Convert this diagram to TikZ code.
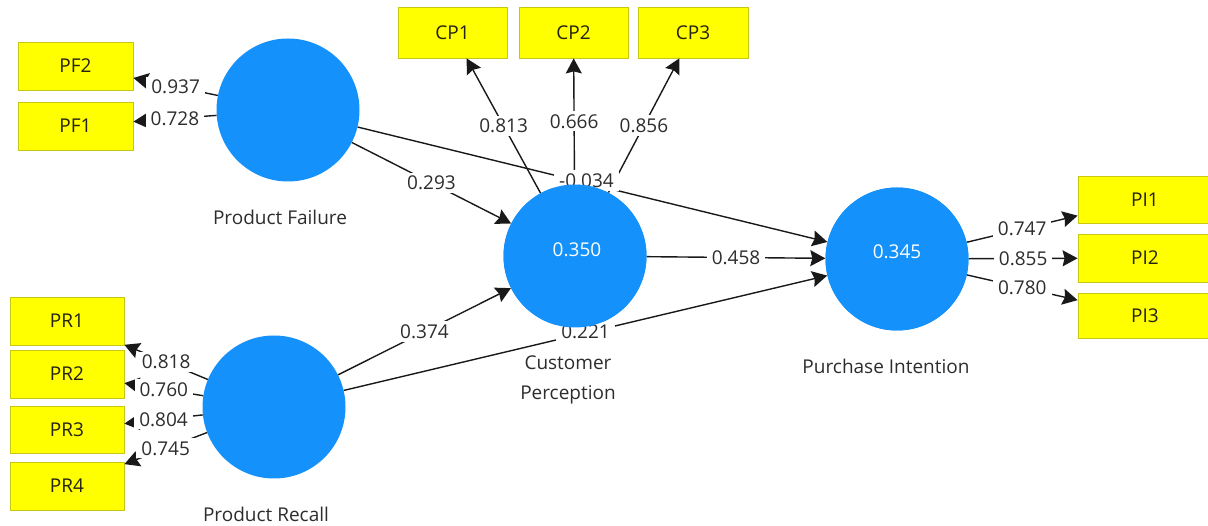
\documentclass[tikz,border=0pt]{standalone}
\usepackage{fontspec}
\setmainfont{Open Sans}
\usetikzlibrary{arrows.meta}
\definecolor{circblue}{RGB}{20,145,250}
\definecolor{boxyellow}{RGB}{255,255,0}
\definecolor{boxedge}{RGB}{200,200,20}
\definecolor{lbltext}{RGB}{45,45,45}
\definecolor{boxtext}{RGB}{35,35,15}
\tikzset{
  latent/.style={circle, fill=circblue, draw=none, minimum size=143pt, inner sep=0pt},
  latentfill/.style={fill=circblue},
  indic/.style={rectangle, fill=boxyellow, draw=boxedge, line width=0.8pt, inner sep=0pt, text=boxtext, font=\fontsize{19}{22}\selectfont},
  arr/.style={draw=black!90, line width=1.4pt, -{Stealth[length=15pt,width=16pt,inset=2pt]}},
  lbl/.style={fill=white, inner xsep=5pt, inner ysep=3pt, text=lbltext, font=\fontsize{19}{22}\selectfont},
  vallbl/.style={text=white, font=\fontsize{19}{22}\selectfont},
  namelbl/.style={text=lbltext, font=\fontsize{19}{30}\selectfont, align=center}
}
\begin{document}
\begin{tikzpicture}[x=1pt, y=-1pt]
\useasboundingbox (0,0) rectangle (1208,526);
% latent variables
\node[latent] (pf) at (288,110) {};
\node[latent] (pr) at (274,407) {};
\node[latent] (cp) at (575,256) {};
\node[latent] (pi) at (897,259) {};
\node[namelbl] (pfn) at (280,217) {Product Failure};
\node[namelbl] (prn) at (266,514) {Product Recall};
\node[namelbl] (pin) at (886,366) {Purchase Intention};
% indicators
\node[indic, minimum width=115pt, minimum height=48pt] (pf2) at (75.5,66) {PF2};
\node[indic, minimum width=115pt, minimum height=48pt] (pf1) at (75.5,126) {PF1};
\node[indic, minimum width=114pt, minimum height=48pt] (pr1) at (67,321) {PR1};
\node[indic, minimum width=114pt, minimum height=48pt] (pr2) at (67,374) {PR2};
\node[indic, minimum width=114pt, minimum height=47pt] (pr3) at (67,430) {PR3};
\node[indic, minimum width=114pt, minimum height=48pt] (pr4) at (67,486) {PR4};
\node[indic, minimum width=109pt, minimum height=51pt] (cp1) at (452.5,32.5) {CP1};
\node[indic, minimum width=109pt, minimum height=51pt] (cp2) at (573.5,32.5) {CP2};
\node[indic, minimum width=110pt, minimum height=51pt] (cp3) at (693,32.5) {CP3};
\node[indic, minimum width=134pt, minimum height=47pt] (pi1) at (1145,199.5) {PI1};
\node[indic, minimum width=134pt, minimum height=48pt] (pi2) at (1145,258) {PI2};
\node[indic, minimum width=134pt, minimum height=45pt] (pi3) at (1145,315.5) {PI3};
% connectors (lines first)
\draw[arr] (pf) -- (cp);
\draw[arr] (pr) -- (cp);
\draw[arr] (cp) -- (pi);
\draw[arr] (pf) -- (pi);
\draw[arr] (pr) -- (pi);
\draw[arr] (pf) -- (pf2);
\draw[arr] (pf) -- (pf1);
\draw[arr] (pr) -- (pr1);
\draw[arr] (pr) -- (pr2);
\draw[arr] (pr) -- (pr3);
\draw[arr] (pr) -- (pr4);
\draw[arr] (cp) -- (cp1);
\draw[arr] (cp) -- (cp2);
\draw[arr] (cp) -- (cp3);
\draw[arr] (pi) -- (pi1);
\draw[arr] (pi) -- (pi2);
\draw[arr] (pi) -- (pi3);
% path coefficient / loading labels on top of lines
\path (pf) -- node[lbl] {0.293} (cp);
\path (pr) -- node[lbl] {0.374} (cp);
\path (cp) -- node[lbl] {0.458} (pi);
\path (pf) -- node[lbl, xshift=-6pt, yshift=4pt] {-0.034} (pi);
\path (pr) -- node[lbl, yshift=1pt] {0.221} (pi);
\path (pf) -- node[lbl] {0.937} (pf2);
\path (pf) -- node[lbl] {0.728} (pf1);
\path (pr) -- node[lbl] {0.818} (pr1);
\path (pr) -- node[lbl] {0.760} (pr2);
\path (pr) -- node[lbl] {0.804} (pr3);
\path (pr) -- node[lbl] {0.745} (pr4);
\path (cp) -- node[lbl] {0.813} (cp1);
\path (cp) -- node[lbl] {0.666} (cp2);
\path (cp) -- node[lbl] {0.856} (cp3);
\path (pi) -- node[lbl] {0.747} (pi1);
\path (pi) -- node[lbl] {0.855} (pi2);
\path (pi) -- node[lbl] {0.780} (pi3);
% circles repainted over the labels, as in the reference
\fill[latentfill] (cp.center) circle[radius=71.5pt];
\fill[latentfill] (pi.center) circle[radius=71.5pt];
\node[vallbl] (cpv) at (577,250) {0.350};
\node[vallbl] (piv) at (897,252) {0.345};
\node[namelbl] (cpn) at (568,380) {Customer\\Perception};
\end{tikzpicture}
\end{document}
